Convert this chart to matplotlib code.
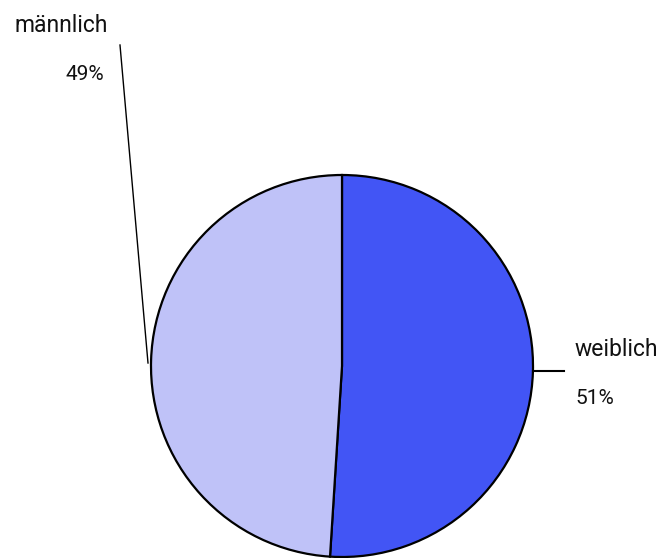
import matplotlib
matplotlib.use("Agg")
import matplotlib.pyplot as plt

# Daten
kategorien = ["weiblich", "männlich"]
anteile = [51, 49]
farben = ["#4255f5", "#bfc2f8"]
prozent_labels = ["51%", "49%"]

plt.rcParams['font.family'] = ['Roboto', 'DejaVu Sans']

W, H = 670, 558
fig = plt.figure(figsize=(W / 100, H / 100), dpi=100)
ax = fig.add_axes([0, 0, 1, 1])

# Kreis in Pixelkoordinaten (y von unten)
cx, cy, r = 342, H - 366, 191
ax.pie(anteile, colors=farben, startangle=90, counterclock=False,
       center=(cx, cy), radius=r, frame=True,
       wedgeprops=dict(edgecolor="black", linewidth=1.6))
ax.set_xlim(0, W)
ax.set_ylim(0, H)
ax.set_aspect('equal')
ax.axis('off')

# Beschriftungen mit Führungslinien
ax.plot([120, 148], [H - 45, H - 363], color="black", lw=1)
ax.text(14, H - 25, kategorien[1], fontsize=16.5, va='center', ha='left', color="#111111")
ax.text(65, H - 75, prozent_labels[1], fontsize=15, va='center', ha='left', color="#111111")

ax.plot([534, 564], [H - 371, H - 371], color="black", lw=1.5)
ax.text(575, H - 349, kategorien[0], fontsize=16.5, va='center', ha='left', color="#111111")
ax.text(575, H - 398, prozent_labels[0], fontsize=15, va='center', ha='left', color="#111111")

fig.savefig("out.png", dpi=100)
